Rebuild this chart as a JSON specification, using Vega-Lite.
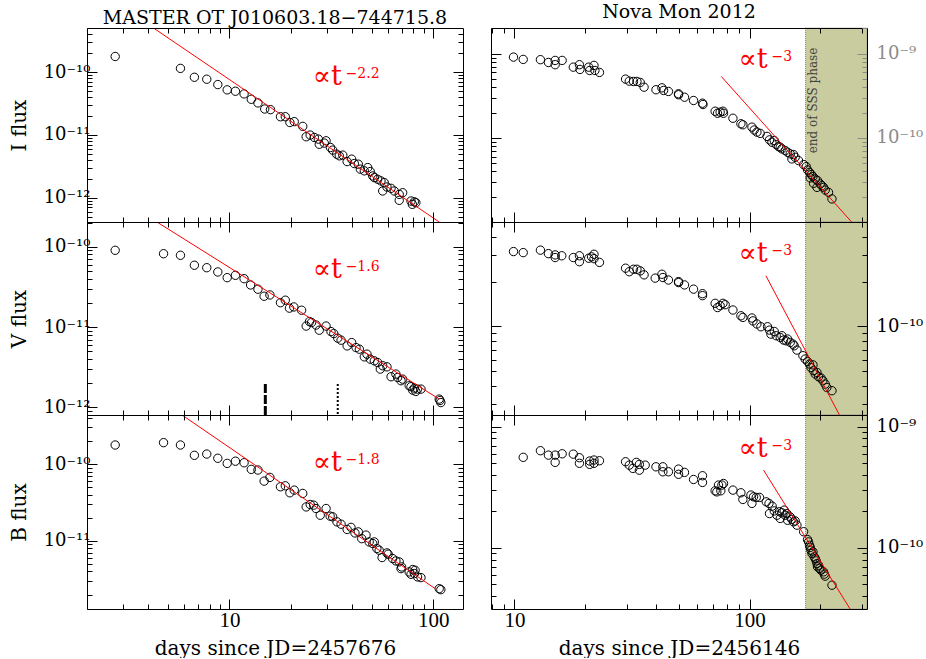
{
"$schema": "https://vega.github.io/schema/vega-lite/v6.json",
"padding": {"left": 9, "top": 3, "right": 0, "bottom": 0},
"background": "white",
"datasets": {
"LI": [{"t":2.75,"f":1.78e-10},{"t":5.75,"f":1.15e-10},{"t":6.73,"f":8.3e-11},{"t":7.74,"f":7.73e-11},{"t":8.77,"f":6.35e-11},{"t":9.75,"f":5.23e-11},{"t":10.7,"f":4.97e-11},{"t":11.8,"f":4.51e-11},{"t":12.8,"f":3.7e-11},{"t":13.8,"f":3.24e-11},{"t":14.9,"f":2.59e-11},{"t":15.9,"f":2.53e-11},{"t":17.8,"f":1.95e-11},{"t":18.8,"f":1.95e-11},{"t":19.8,"f":1.58e-11},{"t":20.8,"f":1.63e-11},{"t":22.9,"f":1.37e-11},{"t":23.8,"f":9.36e-12},{"t":24.9,"f":9.95e-12},{"t":26.1,"f":9.12e-12},{"t":27.3,"f":8.59e-12},{"t":27.6,"f":7.1e-12},{"t":29.2,"f":7.42e-12},{"t":29.8,"f":8.07e-12},{"t":31.3,"f":6.31e-12},{"t":32.1,"f":5.73e-12},{"t":33.6,"f":4.94e-12},{"t":34.6,"f":4.65e-12},{"t":36.0,"f":4.77e-12},{"t":37.8,"f":3.77e-12},{"t":39.8,"f":4.11e-12},{"t":41.0,"f":3.5e-12},{"t":42.9,"f":3.42e-12},{"t":43.9,"f":2.85e-12},{"t":45.9,"f":2.68e-12},{"t":47.7,"f":3.02e-12},{"t":49.1,"f":2.61e-12},{"t":50.5,"f":2.22e-12},{"t":51.4,"f":2.09e-12},{"t":53.4,"f":1.97e-12},{"t":55.4,"f":1.85e-12},{"t":57.5,"f":1.74e-12},{"t":56.5,"f":1.28e-12},{"t":59.3,"f":1.48e-12},{"t":62.1,"f":1.41e-12},{"t":64.4,"f":1.28e-12},{"t":68.1,"f":1.13e-12},{"t":70.8,"f":1.2e-12},{"t":68.1,"f":9.08e-13},{"t":77.8,"f":8.85e-13},{"t":80.8,"f":8.6e-13},{"t":82.2,"f":8.32e-13},{"t":79.0,"f":7.84e-13}],
"LV": [{"t":2.75,"f":9.02e-11},{"t":4.75,"f":8.18e-11},{"t":5.75,"f":7.82e-11},{"t":6.73,"f":5.88e-11},{"t":7.74,"f":5.48e-11},{"t":8.77,"f":4.85e-11},{"t":9.75,"f":4.12e-11},{"t":10.7,"f":4.41e-11},{"t":11.8,"f":4.0e-11},{"t":12.7,"f":3.34e-11},{"t":13.8,"f":2.96e-11},{"t":14.8,"f":2.42e-11},{"t":15.8,"f":2.51e-11},{"t":17.8,"f":2.01e-11},{"t":18.8,"f":2.16e-11},{"t":19.7,"f":1.72e-11},{"t":20.7,"f":1.78e-11},{"t":22.6,"f":1.62e-11},{"t":23.8,"f":1.03e-11},{"t":24.7,"f":1.17e-11},{"t":25.3,"f":1.14e-11},{"t":26.6,"f":1.06e-11},{"t":27.6,"f":9.14e-12},{"t":29.8,"f":1.03e-11},{"t":31.5,"f":8.79e-12},{"t":32.5,"f":8.3e-12},{"t":34.0,"f":7.28e-12},{"t":35.3,"f":6.87e-12},{"t":37.8,"f":5.83e-12},{"t":39.8,"f":6.41e-12},{"t":41.8,"f":5.56e-12},{"t":43.4,"f":5.31e-12},{"t":45.9,"f":4.26e-12},{"t":47.3,"f":4.6e-12},{"t":49.1,"f":3.99e-12},{"t":51.4,"f":3.8e-12},{"t":53.4,"f":3.62e-12},{"t":55.0,"f":3.0e-12},{"t":56.5,"f":3.3e-12},{"t":59.3,"f":3.2e-12},{"t":62.1,"f":2.41e-12},{"t":65.6,"f":2.6e-12},{"t":66.9,"f":2.36e-12},{"t":69.5,"f":2.15e-12},{"t":70.8,"f":2.25e-12},{"t":76.2,"f":1.86e-12},{"t":77.8,"f":1.81e-12},{"t":80.8,"f":1.74e-12},{"t":83.8,"f":1.69e-12},{"t":87.1,"f":1.69e-12},{"t":79.3,"f":1.64e-12},{"t":82.2,"f":1.58e-12},{"t":107,"f":1.27e-12},{"t":109,"f":1.15e-12},{"t":108,"f":1.22e-12}],
"LB": [{"t":2.75,"f":1.77e-10},{"t":4.75,"f":1.9e-10},{"t":5.75,"f":1.77e-10},{"t":6.73,"f":1.3e-10},{"t":7.74,"f":1.35e-10},{"t":8.77,"f":1.19e-10},{"t":9.75,"f":1.02e-10},{"t":10.7,"f":1.09e-10},{"t":11.8,"f":1.04e-10},{"t":12.8,"f":8.53e-11},{"t":13.8,"f":8.36e-11},{"t":14.8,"f":6.0e-11},{"t":15.8,"f":6.71e-11},{"t":17.8,"f":5.06e-11},{"t":18.8,"f":5.21e-11},{"t":19.8,"f":4.23e-11},{"t":20.8,"f":4.58e-11},{"t":22.9,"f":4.15e-11},{"t":23.8,"f":2.77e-11},{"t":24.9,"f":2.98e-11},{"t":25.9,"f":2.92e-11},{"t":26.6,"f":2.64e-11},{"t":27.9,"f":2.16e-11},{"t":29.8,"f":2.64e-11},{"t":31.2,"f":2.1e-11},{"t":32.1,"f":2.06e-11},{"t":33.7,"f":1.77e-11},{"t":35.3,"f":1.65e-11},{"t":37.8,"f":1.41e-11},{"t":39.5,"f":1.5e-11},{"t":41.3,"f":1.27e-11},{"t":42.9,"f":1.31e-11},{"t":44.6,"f":1.07e-11},{"t":46.8,"f":1.19e-11},{"t":48.5,"f":9.7e-12},{"t":50.5,"f":9.25e-12},{"t":51.4,"f":9.7e-12},{"t":52.9,"f":7.96e-12},{"t":54.3,"f":7.57e-12},{"t":56.1,"f":6.08e-12},{"t":59.3,"f":6.98e-12},{"t":60.1,"f":6.71e-12},{"t":63.2,"f":5.9e-12},{"t":65.6,"f":5.49e-12},{"t":68.1,"f":5.33e-12},{"t":69.5,"f":4.36e-12},{"t":70.0,"f":4.58e-12},{"t":76.2,"f":3.95e-12},{"t":79.3,"f":4.24e-12},{"t":80.8,"f":3.76e-12},{"t":83.8,"f":3.4e-12},{"t":87.1,"f":3.33e-12},{"t":77.8,"f":3.68e-12},{"t":81.5,"f":4.15e-12},{"t":107,"f":2.39e-12},{"t":109,"f":2.32e-12}],
"RI": [{"t":9.91,"f":9.11e-10},{"t":10.9,"f":8.55e-10},{"t":12.9,"f":8.49e-10},{"t":13.95,"f":7.87e-10},{"t":14.9,"f":8.32e-10},{"t":14.9,"f":7.4e-10},{"t":15.96,"f":8.32e-10},{"t":17.8,"f":6.92e-10},{"t":18.9,"f":7.4e-10},{"t":19.0,"f":6.5e-10},{"t":20.7,"f":6.92e-10},{"t":20.9,"f":6.32e-10},{"t":21.8,"f":7.26e-10},{"t":22.0,"f":6.32e-10},{"t":23.0,"f":5.99e-10},{"t":29.7,"f":4.99e-10},{"t":30.8,"f":4.72e-10},{"t":32.1,"f":4.68e-10},{"t":33.2,"f":4.68e-10},{"t":34.3,"f":4.55e-10},{"t":35.6,"f":4.0e-10},{"t":40.0,"f":3.73e-10},{"t":42.4,"f":3.93e-10},{"t":43.1,"f":3.66e-10},{"t":45.2,"f":3.56e-10},{"t":49.9,"f":3.34e-10},{"t":49.9,"f":3.25e-10},{"t":52.9,"f":3.04e-10},{"t":57.8,"f":2.78e-10},{"t":63.1,"f":2.58e-10},{"t":63.4,"f":2.49e-10},{"t":71.4,"f":2.07e-10},{"t":73.1,"f":1.96e-10},{"t":75.0,"f":2.02e-10},{"t":77.1,"f":2.07e-10},{"t":77.5,"f":1.96e-10},{"t":85.0,"f":1.71e-10},{"t":91.9,"f":1.47e-10},{"t":93.7,"f":1.43e-10},{"t":102.4,"f":1.34e-10},{"t":104.7,"f":1.24e-10},{"t":107.5,"f":1.17e-10},{"t":111.0,"f":1.13e-10},{"t":118.7,"f":1.04e-10},{"t":121.6,"f":9.46e-11},{"t":124.5,"f":8.86e-11},{"t":127.4,"f":9.29e-11},{"t":129.9,"f":8.31e-11},{"t":132.9,"f":7.87e-11},{"t":135.1,"f":7.73e-11},{"t":137.3,"f":7.4e-11},{"t":141.9,"f":7.06e-11},{"t":145.2,"f":6.74e-11},{"t":149.0,"f":6.45e-11},{"t":153.9,"f":6.33e-11},{"t":151.4,"f":5.62e-11},{"t":156.4,"f":5.87e-11},{"t":161.6,"f":5.37e-11},{"t":169.9,"f":4.81e-11},{"t":174.3,"f":4.55e-11},{"t":176.5,"f":4.16e-11},{"t":180.0,"f":3.89e-11},{"t":183.1,"f":3.66e-11},{"t":186.2,"f":3.46e-11},{"t":181.2,"f":3.34e-11},{"t":190.4,"f":3.25e-11},{"t":194.7,"f":3.1e-11},{"t":187.2,"f":2.88e-11},{"t":199.9,"f":2.83e-11},{"t":203.2,"f":2.7e-11},{"t":193.6,"f":2.58e-11},{"t":206.5,"f":2.58e-11},{"t":209.9,"f":2.4e-11},{"t":216.8,"f":2.25e-11},{"t":224.2,"f":1.88e-11}],
"RV": [{"t":9.91,"f":3.18e-10},{"t":10.9,"f":3.13e-10},{"t":12.9,"f":3.25e-10},{"t":13.95,"f":3.08e-10},{"t":14.9,"f":3.02e-10},{"t":14.9,"f":2.9e-10},{"t":15.9,"f":2.98e-10},{"t":17.8,"f":2.9e-10},{"t":18.9,"f":2.98e-10},{"t":18.9,"f":2.72e-10},{"t":20.7,"f":2.87e-10},{"t":21.3,"f":2.93e-10},{"t":21.8,"f":3.05e-10},{"t":21.8,"f":2.85e-10},{"t":23.0,"f":2.69e-10},{"t":29.7,"f":2.46e-10},{"t":30.8,"f":2.33e-10},{"t":32.1,"f":2.42e-10},{"t":33.2,"f":2.42e-10},{"t":34.3,"f":2.36e-10},{"t":35.6,"f":2.22e-10},{"t":39.7,"f":2.11e-10},{"t":42.4,"f":2.24e-10},{"t":42.8,"f":2.13e-10},{"t":45.2,"f":2.05e-10},{"t":49.9,"f":2.0e-10},{"t":49.9,"f":1.97e-10},{"t":52.9,"f":1.9e-10},{"t":57.8,"f":1.78e-10},{"t":63.1,"f":1.66e-10},{"t":63.1,"f":1.61e-10},{"t":71.4,"f":1.43e-10},{"t":73.1,"f":1.34e-10},{"t":75.0,"f":1.38e-10},{"t":77.1,"f":1.43e-10},{"t":78.8,"f":1.4e-10},{"t":85.0,"f":1.29e-10},{"t":91.9,"f":1.18e-10},{"t":93.7,"f":1.15e-10},{"t":102.4,"f":1.14e-10},{"t":103.4,"f":1.09e-10},{"t":107.5,"f":1.04e-10},{"t":111.8,"f":9.96e-11},{"t":119.3,"f":9.96e-11},{"t":121.6,"f":9.46e-11},{"t":123.3,"f":8.89e-11},{"t":127.4,"f":9.26e-11},{"t":129.9,"f":8.67e-11},{"t":135.1,"f":8.44e-11},{"t":137.3,"f":8.67e-11},{"t":139.6,"f":8.11e-11},{"t":143.2,"f":8.02e-11},{"t":145.2,"f":8.24e-11},{"t":149.0,"f":7.82e-11},{"t":153.0,"f":7.62e-11},{"t":154.9,"f":7.43e-11},{"t":159.1,"f":6.95e-11},{"t":168.7,"f":6.37e-11},{"t":172.5,"f":6.05e-11},{"t":176.5,"f":5.83e-11},{"t":180.0,"f":5.6e-11},{"t":182.4,"f":5.31e-11},{"t":186.2,"f":5.53e-11},{"t":187.2,"f":5.05e-11},{"t":190.4,"f":4.8e-11},{"t":193.6,"f":4.92e-11},{"t":196.6,"f":4.6e-11},{"t":201.4,"f":4.51e-11},{"t":205.2,"f":4.33e-11},{"t":209.9,"f":4.11e-11},{"t":213.3,"f":3.9e-11},{"t":224.2,"f":3.71e-11}],
"RB": [{"t":10.9,"f":5.59e-10},{"t":12.9,"f":6.34e-10},{"t":13.95,"f":5.83e-10},{"t":14.9,"f":5.83e-10},{"t":14.9,"f":5.08e-10},{"t":15.96,"f":5.98e-10},{"t":17.8,"f":5.94e-10},{"t":18.9,"f":5.55e-10},{"t":18.9,"f":4.99e-10},{"t":20.9,"f":5.21e-10},{"t":20.9,"f":4.89e-10},{"t":21.8,"f":5.31e-10},{"t":21.8,"f":4.99e-10},{"t":23.0,"f":5.24e-10},{"t":29.7,"f":5.14e-10},{"t":30.8,"f":4.82e-10},{"t":31.9,"f":4.53e-10},{"t":33.0,"f":5.08e-10},{"t":34.0,"f":4.89e-10},{"t":34.0,"f":4.38e-10},{"t":36.0,"f":4.82e-10},{"t":40.0,"f":4.67e-10},{"t":42.8,"f":4.67e-10},{"t":42.8,"f":4.25e-10},{"t":45.2,"f":4.25e-10},{"t":49.9,"f":4.47e-10},{"t":49.9,"f":4.05e-10},{"t":52.9,"f":4.2e-10},{"t":57.8,"f":3.67e-10},{"t":63.1,"f":3.94e-10},{"t":63.1,"f":3.47e-10},{"t":71.4,"f":2.96e-10},{"t":73.8,"f":3.3e-10},{"t":76.3,"f":3.3e-10},{"t":77.5,"f":3.4e-10},{"t":72.6,"f":2.9e-10},{"t":75.5,"f":2.96e-10},{"t":85.0,"f":3.0e-10},{"t":91.9,"f":2.85e-10},{"t":93.7,"f":2.51e-10},{"t":101.4,"f":2.73e-10},{"t":104.0,"f":2.64e-10},{"t":106.8,"f":2.61e-10},{"t":110.3,"f":2.61e-10},{"t":102.4,"f":2.33e-10},{"t":117.8,"f":2.4e-10},{"t":121.0,"f":2.33e-10},{"t":124.8,"f":2.21e-10},{"t":121.6,"f":1.92e-10},{"t":127.4,"f":2.02e-10},{"t":130.8,"f":1.86e-10},{"t":134.2,"f":1.99e-10},{"t":135.1,"f":1.75e-10},{"t":137.3,"f":1.95e-10},{"t":140.5,"f":2.05e-10},{"t":141.9,"f":1.86e-10},{"t":144.2,"f":1.92e-10},{"t":145.2,"f":1.69e-10},{"t":149.0,"f":1.8e-10},{"t":151.4,"f":1.72e-10},{"t":153.9,"f":1.64e-10},{"t":156.4,"f":1.67e-10},{"t":159.1,"f":1.54e-10},{"t":169.9,"f":1.36e-10},{"t":176.5,"f":1.17e-10},{"t":178.3,"f":1.12e-10},{"t":180.0,"f":1.05e-10},{"t":181.2,"f":1.01e-10},{"t":182.4,"f":9.57e-11},{"t":184.4,"f":8.99e-11},{"t":186.2,"f":9.27e-11},{"t":188.5,"f":8.43e-11},{"t":190.4,"f":8.17e-11},{"t":192.2,"f":7.81e-11},{"t":193.6,"f":7.43e-11},{"t":194.7,"f":6.97e-11},{"t":196.6,"f":7.19e-11},{"t":198.6,"f":6.76e-11},{"t":201.4,"f":6.54e-11},{"t":206.5,"f":6.34e-11},{"t":208.0,"f":6.07e-11},{"t":209.9,"f":5.84e-11},{"t":224.2,"f":4.92e-11}],
"fits": [{"p":"LI","t":4,"f":5.75e-10},{"p":"LI","t":107,"f":4.1e-13},{"p":"LV","t":4,"f":2.37e-10},{"p":"LV","t":107,"f":1.27e-12},{"p":"LB","t":4,"f":8.7e-10},{"p":"LB","t":102.3,"f":2.39e-12},{"p":"RI","t":75.8,"f":5.37e-10},{"p":"RI","t":300,"f":7.35e-12},{"p":"RV","t":117.4,"f":2.19e-10},{"p":"RV","t":300,"f":1.33e-11},{"p":"RB","t":114.7,"f":4.39e-10},{"p":"RB","t":300,"f":2.2e-11}],
"notes": [{"p":"LI","t":25.6,"f":6.35e-11,"m":"∝t","s":"−2.2"},{"p":"LV","t":25.6,"f":4.05e-11,"m":"∝t","s":"−1.6"},{"p":"LB","t":25.6,"f":8.2e-11,"m":"∝t","s":"−1.8"},{"p":"RI","t":89.8,"f":6.81e-10,"m":"∝t","s":"−3"},{"p":"RV","t":89.8,"f":2.69e-10,"m":"∝t","s":"−3"},{"p":"RB","t":89.8,"f":5.66e-10,"m":"∝t","s":"−3"}],
"epochs": [{"k":"dashed","t":15.0,"f":1.95e-12,"f2":8.05e-13},{"k":"dotted","t":34.0,"f":1.95e-12,"f2":8.05e-13}],
"sss": [{"t":173,"t2":316}],
"sssnote": [{"t":186.6,"f":2.78e-10,"s":"end of SSS phase"}]
},
"columns": 2,
"spacing": {"row": 0, "column": 28},
"bounds": "flush",
"concat": [
{"width": 376, "height": 194,
 "title": {"text": "MASTER OT J010603.18−744715.8", "font": "DejaVu Serif", "fontSize": 19, "fontWeight": "normal", "offset": -3, "frame": "group", "color": "black"},
 "resolve": {"axis": {"x": "independent", "y": "independent"}},
 "layer": [
  {"data": {"name": "LI"}, "mark": {"type": "point", "shape": "circle", "filled": false, "stroke": "black", "strokeWidth": 1, "size": 70, "opacity": 1},
   "encoding": {
    "x": {"field": "t", "type": "quantitative", "scale": {"type": "log", "domain": [2, 140], "nice": false}, "axis": {"orient": "bottom", "values": [2,3,4,5,6,7,8,9,10,20,30,40,50,60,70,80,90,100], "labels": false, "title": null, "zindex": 1, "tickSize": {"condition": {"test": "datum.value == 10 || datum.value == 100", "value": -10}, "value": -5}}},
    "y": {"field": "f", "type": "quantitative", "scale": {"type": "log", "domain": [4.1e-13, 5.06e-10], "nice": false}, "axis": {"orient": "left", "values": [5e-13,6e-13,7e-13,8e-13,9e-13,1e-12,2e-12,3e-12,4e-12,5e-12,6e-12,7e-12,8e-12,9e-12,1e-11,2e-11,3e-11,4e-11,5e-11,6e-11,7e-11,8e-11,9e-11,1e-10,2e-10,3e-10,4e-10], "labelExpr": "abs(log(datum.value)/LN10 - round(log(datum.value)/LN10)) < 0.001 ? (round(log(datum.value)/LN10) == -9 ? '10⁻⁹' : round(log(datum.value)/LN10) == -10 ? '10⁻¹⁰' : round(log(datum.value)/LN10) == -11 ? '10⁻¹¹' : '10⁻¹²') : ''", "labelPadding": 7, "title": "I flux", "titlePadding": 14, "zindex": 1, "tickSize": {"condition": {"test": "abs(log(datum.value)/LN10 - round(log(datum.value)/LN10)) < 0.001", "value": -10}, "value": -5}}}
   }},
  {"data": {"name": "fits"}, "transform": [{"filter": "datum.p == 'LI'"}], "mark": {"type": "line", "color": "#ff0000", "strokeWidth": 1, "clip": true},
   "encoding": {
    "x": {"field": "t", "type": "quantitative", "scale": {"type": "log", "domain": [2, 140], "nice": false}, "axis": {"orient": "top", "values": [2,3,4,5,6,7,8,9,10,20,30,40,50,60,70,80,90,100], "labels": false, "title": null, "zindex": 1, "tickSize": {"condition": {"test": "datum.value == 10 || datum.value == 100", "value": -10}, "value": -5}}},
    "y": {"field": "f", "type": "quantitative", "scale": {"type": "log", "domain": [4.1e-13, 5.06e-10], "nice": false}, "axis": {"orient": "right", "values": [5e-13,6e-13,7e-13,8e-13,9e-13,1e-12,2e-12,3e-12,4e-12,5e-12,6e-12,7e-12,8e-12,9e-12,1e-11,2e-11,3e-11,4e-11,5e-11,6e-11,7e-11,8e-11,9e-11,1e-10,2e-10,3e-10,4e-10], "labels": false, "title": null, "zindex": 1, "tickSize": {"condition": {"test": "abs(log(datum.value)/LN10 - round(log(datum.value)/LN10)) < 0.001", "value": -10}, "value": -5}}}
   }},
  {"data": {"name": "notes"}, "transform": [{"filter": "datum.p == 'LI'"}], "mark": {"type": "text", "align": "left", "baseline": "alphabetic", "font": "DejaVu Serif", "fontSize": 27, "color": "#ff0000"},
   "encoding": {"x": {"field": "t", "type": "quantitative", "axis": null}, "y": {"field": "f", "type": "quantitative", "axis": null}, "text": {"field": "m"}}},
  {"data": {"name": "notes"}, "transform": [{"filter": "datum.p == 'LI'"}], "mark": {"type": "text", "align": "left", "baseline": "alphabetic", "font": "DejaVu Serif", "fontSize": 14, "color": "#ff0000", "dx": 33, "dy": -7},
   "encoding": {"x": {"field": "t", "type": "quantitative", "axis": null}, "y": {"field": "f", "type": "quantitative", "axis": null}, "text": {"field": "s"}}}
 ]},
{"width": 376, "height": 194,
 "title": {"text": "Nova Mon 2012", "font": "DejaVu Serif", "fontSize": 19, "fontWeight": "normal", "offset": -3, "frame": "group", "color": "black"},
 "resolve": {"axis": {"x": "independent", "y": "independent"}},
 "layer": [
  {"data": {"name": "sss"}, "mark": {"type": "rect", "fill": "#c9cc9f", "stroke": "#8a8a7a", "strokeWidth": 1, "strokeDash": [1, 1]},
   "encoding": {"x": {"field": "t", "type": "quantitative", "scale": {"type": "log", "domain": [7.95, 316], "nice": false}, "axis": null}, "x2": {"field": "t2"}}},
  {"data": {"name": "RI"}, "mark": {"type": "point", "shape": "circle", "filled": false, "stroke": "black", "strokeWidth": 1, "size": 70, "opacity": 1},
   "encoding": {
    "x": {"field": "t", "type": "quantitative", "scale": {"type": "log", "domain": [7.95, 316], "nice": false}, "axis": {"orient": "bottom", "values": [8,9,10,20,30,40,50,60,70,80,90,100,200,300], "labels": false, "title": null, "zindex": 1, "tickSize": {"condition": {"test": "datum.value == 10 || datum.value == 100", "value": -10}, "value": -5}}},
    "y": {"field": "f", "type": "quantitative", "scale": {"type": "log", "domain": [1e-11, 2.02e-9], "nice": false}, "axis": {"orient": "left", "values": [2e-11,3e-11,4e-11,5e-11,6e-11,7e-11,8e-11,9e-11,1e-10,2e-10,3e-10,4e-10,5e-10,6e-10,7e-10,8e-10,9e-10,1e-9,2e-9], "labels": false, "title": null, "zindex": 1, "tickSize": {"condition": {"test": "abs(log(datum.value)/LN10 - round(log(datum.value)/LN10)) < 0.001", "value": -10}, "value": -5}}}
   }},
  {"data": {"name": "fits"}, "transform": [{"filter": "datum.p == 'RI'"}], "mark": {"type": "line", "color": "#ff0000", "strokeWidth": 1, "clip": true},
   "encoding": {
    "x": {"field": "t", "type": "quantitative", "scale": {"type": "log", "domain": [7.95, 316], "nice": false}, "axis": {"orient": "top", "values": [8,9,10,20,30,40,50,60,70,80,90,100,200,300], "labels": false, "title": null, "zindex": 1, "tickSize": {"condition": {"test": "datum.value == 10 || datum.value == 100", "value": -10}, "value": -5}}},
    "y": {"field": "f", "type": "quantitative", "scale": {"type": "log", "domain": [1e-11, 2.02e-9], "nice": false}, "axis": {"orient": "right", "values": [2e-11,3e-11,4e-11,5e-11,6e-11,7e-11,8e-11,9e-11,1e-10,2e-10,3e-10,4e-10,5e-10,6e-10,7e-10,8e-10,9e-10,1e-9,2e-9], "labelExpr": "abs(log(datum.value)/LN10 - round(log(datum.value)/LN10)) < 0.001 ? (round(log(datum.value)/LN10) == -9 ? '10⁻⁹' : round(log(datum.value)/LN10) == -10 ? '10⁻¹⁰' : round(log(datum.value)/LN10) == -11 ? '10⁻¹¹' : '10⁻¹²') : ''", "labelPadding": 19, "labelColor": "#8c8c8c", "tickColor": "#8c8c8c", "title": null, "zindex": 1, "tickSize": {"condition": {"test": "abs(log(datum.value)/LN10 - round(log(datum.value)/LN10)) < 0.001", "value": -10}, "value": -5}}}
   }},
  {"data": {"name": "notes"}, "transform": [{"filter": "datum.p == 'RI'"}], "mark": {"type": "text", "align": "left", "baseline": "alphabetic", "font": "DejaVu Serif", "fontSize": 27, "color": "#ff0000"},
   "encoding": {"x": {"field": "t", "type": "quantitative", "axis": null}, "y": {"field": "f", "type": "quantitative", "axis": null}, "text": {"field": "m"}}},
  {"data": {"name": "notes"}, "transform": [{"filter": "datum.p == 'RI'"}], "mark": {"type": "text", "align": "left", "baseline": "alphabetic", "font": "DejaVu Serif", "fontSize": 14, "color": "#ff0000", "dx": 33, "dy": -7},
   "encoding": {"x": {"field": "t", "type": "quantitative", "axis": null}, "y": {"field": "f", "type": "quantitative", "axis": null}, "text": {"field": "s"}}},
  {"data": {"name": "sssnote"}, "mark": {"type": "text", "angle": 270, "align": "center", "baseline": "middle", "font": "DejaVu Serif", "fontSize": 12, "color": "#444444"},
   "encoding": {"x": {"field": "t", "type": "quantitative", "axis": null}, "y": {"field": "f", "type": "quantitative", "axis": null}, "text": {"field": "s"}}}
 ]},
{"width": 376, "height": 193,
 "resolve": {"axis": {"x": "independent", "y": "independent"}},
 "layer": [
  {"data": {"name": "LV"}, "mark": {"type": "point", "shape": "circle", "filled": false, "stroke": "black", "strokeWidth": 1, "size": 70, "opacity": 1},
   "encoding": {
    "x": {"field": "t", "type": "quantitative", "scale": {"type": "log", "domain": [2, 140], "nice": false}, "axis": {"orient": "bottom", "values": [2,3,4,5,6,7,8,9,10,20,30,40,50,60,70,80,90,100], "labels": false, "title": null, "zindex": 1, "tickSize": {"condition": {"test": "datum.value == 10 || datum.value == 100", "value": -10}, "value": -5}}},
    "y": {"field": "f", "type": "quantitative", "scale": {"type": "log", "domain": [8.05e-13, 2.03e-10], "nice": false}, "axis": {"orient": "left", "values": [9e-13,1e-12,2e-12,3e-12,4e-12,5e-12,6e-12,7e-12,8e-12,9e-12,1e-11,2e-11,3e-11,4e-11,5e-11,6e-11,7e-11,8e-11,9e-11,1e-10,2e-10], "labelExpr": "abs(log(datum.value)/LN10 - round(log(datum.value)/LN10)) < 0.001 ? (round(log(datum.value)/LN10) == -9 ? '10⁻⁹' : round(log(datum.value)/LN10) == -10 ? '10⁻¹⁰' : round(log(datum.value)/LN10) == -11 ? '10⁻¹¹' : '10⁻¹²') : ''", "labelPadding": 7, "title": "V flux", "titlePadding": 14, "zindex": 1, "tickSize": {"condition": {"test": "abs(log(datum.value)/LN10 - round(log(datum.value)/LN10)) < 0.001", "value": -10}, "value": -5}}}
   }},
  {"data": {"name": "fits"}, "transform": [{"filter": "datum.p == 'LV'"}], "mark": {"type": "line", "color": "#ff0000", "strokeWidth": 1, "clip": true},
   "encoding": {
    "x": {"field": "t", "type": "quantitative", "scale": {"type": "log", "domain": [2, 140], "nice": false}, "axis": {"orient": "top", "values": [2,3,4,5,6,7,8,9,10,20,30,40,50,60,70,80,90,100], "labels": false, "title": null, "zindex": 1, "tickSize": {"condition": {"test": "datum.value == 10 || datum.value == 100", "value": -10}, "value": -5}}},
    "y": {"field": "f", "type": "quantitative", "scale": {"type": "log", "domain": [8.05e-13, 2.03e-10], "nice": false}, "axis": {"orient": "right", "values": [9e-13,1e-12,2e-12,3e-12,4e-12,5e-12,6e-12,7e-12,8e-12,9e-12,1e-11,2e-11,3e-11,4e-11,5e-11,6e-11,7e-11,8e-11,9e-11,1e-10,2e-10], "labels": false, "title": null, "zindex": 1, "tickSize": {"condition": {"test": "abs(log(datum.value)/LN10 - round(log(datum.value)/LN10)) < 0.001", "value": -10}, "value": -5}}}
   }},
  {"data": {"name": "notes"}, "transform": [{"filter": "datum.p == 'LV'"}], "mark": {"type": "text", "align": "left", "baseline": "alphabetic", "font": "DejaVu Serif", "fontSize": 27, "color": "#ff0000"},
   "encoding": {"x": {"field": "t", "type": "quantitative", "axis": null}, "y": {"field": "f", "type": "quantitative", "axis": null}, "text": {"field": "m"}}},
  {"data": {"name": "notes"}, "transform": [{"filter": "datum.p == 'LV'"}], "mark": {"type": "text", "align": "left", "baseline": "alphabetic", "font": "DejaVu Serif", "fontSize": 14, "color": "#ff0000", "dx": 33, "dy": -7},
   "encoding": {"x": {"field": "t", "type": "quantitative", "axis": null}, "y": {"field": "f", "type": "quantitative", "axis": null}, "text": {"field": "s"}}},
  {"data": {"name": "epochs"}, "transform": [{"filter": "datum.k == 'dashed'"}], "mark": {"type": "rule", "color": "black", "strokeWidth": 3, "strokeDash": [9, 2]},
   "encoding": {"x": {"field": "t", "type": "quantitative", "axis": null}, "y": {"field": "f", "type": "quantitative", "axis": null}, "y2": {"field": "f2"}}},
  {"data": {"name": "epochs"}, "transform": [{"filter": "datum.k == 'dotted'"}], "mark": {"type": "rule", "color": "black", "strokeWidth": 2, "strokeDash": [2, 2]},
   "encoding": {"x": {"field": "t", "type": "quantitative", "axis": null}, "y": {"field": "f", "type": "quantitative", "axis": null}, "y2": {"field": "f2"}}}
 ]},
{"width": 376, "height": 193,
 "resolve": {"axis": {"x": "independent", "y": "independent"}},
 "layer": [
  {"data": {"name": "sss"}, "mark": {"type": "rect", "fill": "#c9cc9f", "stroke": "#8a8a7a", "strokeWidth": 1, "strokeDash": [1, 1]},
   "encoding": {"x": {"field": "t", "type": "quantitative", "scale": {"type": "log", "domain": [7.95, 316], "nice": false}, "axis": null}, "x2": {"field": "t2"}}},
  {"data": {"name": "RV"}, "mark": {"type": "point", "shape": "circle", "filled": false, "stroke": "black", "strokeWidth": 1, "size": 70, "opacity": 1},
   "encoding": {
    "x": {"field": "t", "type": "quantitative", "scale": {"type": "log", "domain": [7.95, 316], "nice": false}, "axis": {"orient": "bottom", "values": [8,9,10,20,30,40,50,60,70,80,90,100,200,300], "labels": false, "title": null, "zindex": 1, "tickSize": {"condition": {"test": "datum.value == 10 || datum.value == 100", "value": -10}, "value": -5}}},
    "y": {"field": "f", "type": "quantitative", "scale": {"type": "log", "domain": [2.55e-11, 5.02e-10], "nice": false}, "axis": {"orient": "left", "values": [3e-11,4e-11,5e-11,6e-11,7e-11,8e-11,9e-11,1e-10,2e-10,3e-10,4e-10,5e-10], "labels": false, "title": null, "zindex": 1, "tickSize": {"condition": {"test": "abs(log(datum.value)/LN10 - round(log(datum.value)/LN10)) < 0.001", "value": -10}, "value": -5}}}
   }},
  {"data": {"name": "fits"}, "transform": [{"filter": "datum.p == 'RV'"}], "mark": {"type": "line", "color": "#ff0000", "strokeWidth": 1, "clip": true},
   "encoding": {
    "x": {"field": "t", "type": "quantitative", "scale": {"type": "log", "domain": [7.95, 316], "nice": false}, "axis": {"orient": "top", "values": [8,9,10,20,30,40,50,60,70,80,90,100,200,300], "labels": false, "title": null, "zindex": 1, "tickSize": {"condition": {"test": "datum.value == 10 || datum.value == 100", "value": -10}, "value": -5}}},
    "y": {"field": "f", "type": "quantitative", "scale": {"type": "log", "domain": [2.55e-11, 5.02e-10], "nice": false}, "axis": {"orient": "right", "values": [3e-11,4e-11,5e-11,6e-11,7e-11,8e-11,9e-11,1e-10,2e-10,3e-10,4e-10,5e-10], "labelExpr": "abs(log(datum.value)/LN10 - round(log(datum.value)/LN10)) < 0.001 ? (round(log(datum.value)/LN10) == -9 ? '10⁻⁹' : round(log(datum.value)/LN10) == -10 ? '10⁻¹⁰' : round(log(datum.value)/LN10) == -11 ? '10⁻¹¹' : '10⁻¹²') : ''", "labelPadding": 19, "title": null, "zindex": 1, "tickSize": {"condition": {"test": "abs(log(datum.value)/LN10 - round(log(datum.value)/LN10)) < 0.001", "value": -10}, "value": -5}}}
   }},
  {"data": {"name": "notes"}, "transform": [{"filter": "datum.p == 'RV'"}], "mark": {"type": "text", "align": "left", "baseline": "alphabetic", "font": "DejaVu Serif", "fontSize": 27, "color": "#ff0000"},
   "encoding": {"x": {"field": "t", "type": "quantitative", "axis": null}, "y": {"field": "f", "type": "quantitative", "axis": null}, "text": {"field": "m"}}},
  {"data": {"name": "notes"}, "transform": [{"filter": "datum.p == 'RV'"}], "mark": {"type": "text", "align": "left", "baseline": "alphabetic", "font": "DejaVu Serif", "fontSize": 14, "color": "#ff0000", "dx": 33, "dy": -7},
   "encoding": {"x": {"field": "t", "type": "quantitative", "axis": null}, "y": {"field": "f", "type": "quantitative", "axis": null}, "text": {"field": "s"}}}
 ]},
{"width": 376, "height": 194,
 "resolve": {"axis": {"x": "independent", "y": "independent"}},
 "layer": [
  {"data": {"name": "LB"}, "mark": {"type": "point", "shape": "circle", "filled": false, "stroke": "black", "strokeWidth": 1, "size": 70, "opacity": 1},
   "encoding": {
    "x": {"field": "t", "type": "quantitative", "scale": {"type": "log", "domain": [2, 140], "nice": false}, "axis": {"orient": "bottom", "values": [2,3,4,5,6,7,8,9,10,20,30,40,50,60,70,80,90,100], "labelExpr": "datum.value == 10 ? '10' : datum.value == 100 ? '100' : ''", "labelPadding": 10, "title": "days since JD=2457676", "titlePadding": 3, "zindex": 1, "tickSize": {"condition": {"test": "datum.value == 10 || datum.value == 100", "value": -10}, "value": -5}}},
    "y": {"field": "f", "type": "quantitative", "scale": {"type": "log", "domain": [1.3e-12, 4.35e-10], "nice": false}, "axis": {"orient": "left", "values": [2e-12,3e-12,4e-12,5e-12,6e-12,7e-12,8e-12,9e-12,1e-11,2e-11,3e-11,4e-11,5e-11,6e-11,7e-11,8e-11,9e-11,1e-10,2e-10,3e-10,4e-10], "labelExpr": "abs(log(datum.value)/LN10 - round(log(datum.value)/LN10)) < 0.001 ? (round(log(datum.value)/LN10) == -9 ? '10⁻⁹' : round(log(datum.value)/LN10) == -10 ? '10⁻¹⁰' : round(log(datum.value)/LN10) == -11 ? '10⁻¹¹' : '10⁻¹²') : ''", "labelPadding": 7, "title": "B flux", "titlePadding": 14, "zindex": 1, "tickSize": {"condition": {"test": "abs(log(datum.value)/LN10 - round(log(datum.value)/LN10)) < 0.001", "value": -10}, "value": -5}}}
   }},
  {"data": {"name": "fits"}, "transform": [{"filter": "datum.p == 'LB'"}], "mark": {"type": "line", "color": "#ff0000", "strokeWidth": 1, "clip": true},
   "encoding": {
    "x": {"field": "t", "type": "quantitative", "scale": {"type": "log", "domain": [2, 140], "nice": false}, "axis": {"orient": "top", "values": [2,3,4,5,6,7,8,9,10,20,30,40,50,60,70,80,90,100], "labels": false, "title": null, "zindex": 1, "tickSize": {"condition": {"test": "datum.value == 10 || datum.value == 100", "value": -10}, "value": -5}}},
    "y": {"field": "f", "type": "quantitative", "scale": {"type": "log", "domain": [1.3e-12, 4.35e-10], "nice": false}, "axis": {"orient": "right", "values": [2e-12,3e-12,4e-12,5e-12,6e-12,7e-12,8e-12,9e-12,1e-11,2e-11,3e-11,4e-11,5e-11,6e-11,7e-11,8e-11,9e-11,1e-10,2e-10,3e-10,4e-10], "labels": false, "title": null, "zindex": 1, "tickSize": {"condition": {"test": "abs(log(datum.value)/LN10 - round(log(datum.value)/LN10)) < 0.001", "value": -10}, "value": -5}}}
   }},
  {"data": {"name": "notes"}, "transform": [{"filter": "datum.p == 'LB'"}], "mark": {"type": "text", "align": "left", "baseline": "alphabetic", "font": "DejaVu Serif", "fontSize": 27, "color": "#ff0000"},
   "encoding": {"x": {"field": "t", "type": "quantitative", "axis": null}, "y": {"field": "f", "type": "quantitative", "axis": null}, "text": {"field": "m"}}},
  {"data": {"name": "notes"}, "transform": [{"filter": "datum.p == 'LB'"}], "mark": {"type": "text", "align": "left", "baseline": "alphabetic", "font": "DejaVu Serif", "fontSize": 14, "color": "#ff0000", "dx": 33, "dy": -7},
   "encoding": {"x": {"field": "t", "type": "quantitative", "axis": null}, "y": {"field": "f", "type": "quantitative", "axis": null}, "text": {"field": "s"}}}
 ]},
{"width": 376, "height": 194,
 "resolve": {"axis": {"x": "independent", "y": "independent"}},
 "layer": [
  {"data": {"name": "sss"}, "mark": {"type": "rect", "fill": "#c9cc9f", "stroke": "#8a8a7a", "strokeWidth": 1, "strokeDash": [1, 1]},
   "encoding": {"x": {"field": "t", "type": "quantitative", "scale": {"type": "log", "domain": [7.95, 316], "nice": false}, "axis": null}, "x2": {"field": "t2"}}},
  {"data": {"name": "RB"}, "mark": {"type": "point", "shape": "circle", "filled": false, "stroke": "black", "strokeWidth": 1, "size": 70, "opacity": 1},
   "encoding": {
    "x": {"field": "t", "type": "quantitative", "scale": {"type": "log", "domain": [7.95, 316], "nice": false}, "axis": {"orient": "bottom", "values": [8,9,10,20,30,40,50,60,70,80,90,100,200,300], "labelExpr": "datum.value == 10 ? '10' : datum.value == 100 ? '100' : ''", "labelPadding": 10, "title": "days since JD=2456146", "titlePadding": 3, "zindex": 1, "tickSize": {"condition": {"test": "datum.value == 10 || datum.value == 100", "value": -10}, "value": -5}}},
    "y": {"field": "f", "type": "quantitative", "scale": {"type": "log", "domain": [3.13e-11, 1.25e-9], "nice": false}, "axis": {"orient": "left", "values": [4e-11,5e-11,6e-11,7e-11,8e-11,9e-11,1e-10,2e-10,3e-10,4e-10,5e-10,6e-10,7e-10,8e-10,9e-10,1e-9], "labels": false, "title": null, "zindex": 1, "tickSize": {"condition": {"test": "abs(log(datum.value)/LN10 - round(log(datum.value)/LN10)) < 0.001", "value": -10}, "value": -5}}}
   }},
  {"data": {"name": "fits"}, "transform": [{"filter": "datum.p == 'RB'"}], "mark": {"type": "line", "color": "#ff0000", "strokeWidth": 1, "clip": true},
   "encoding": {
    "x": {"field": "t", "type": "quantitative", "scale": {"type": "log", "domain": [7.95, 316], "nice": false}, "axis": {"orient": "top", "values": [8,9,10,20,30,40,50,60,70,80,90,100,200,300], "labels": false, "title": null, "zindex": 1, "tickSize": {"condition": {"test": "datum.value == 10 || datum.value == 100", "value": -10}, "value": -5}}},
    "y": {"field": "f", "type": "quantitative", "scale": {"type": "log", "domain": [3.13e-11, 1.25e-9], "nice": false}, "axis": {"orient": "right", "values": [4e-11,5e-11,6e-11,7e-11,8e-11,9e-11,1e-10,2e-10,3e-10,4e-10,5e-10,6e-10,7e-10,8e-10,9e-10,1e-9], "labelExpr": "abs(log(datum.value)/LN10 - round(log(datum.value)/LN10)) < 0.001 ? (round(log(datum.value)/LN10) == -9 ? '10⁻⁹' : round(log(datum.value)/LN10) == -10 ? '10⁻¹⁰' : round(log(datum.value)/LN10) == -11 ? '10⁻¹¹' : '10⁻¹²') : ''", "labelPadding": 19, "title": null, "zindex": 1, "tickSize": {"condition": {"test": "abs(log(datum.value)/LN10 - round(log(datum.value)/LN10)) < 0.001", "value": -10}, "value": -5}}}
   }},
  {"data": {"name": "notes"}, "transform": [{"filter": "datum.p == 'RB'"}], "mark": {"type": "text", "align": "left", "baseline": "alphabetic", "font": "DejaVu Serif", "fontSize": 27, "color": "#ff0000"},
   "encoding": {"x": {"field": "t", "type": "quantitative", "axis": null}, "y": {"field": "f", "type": "quantitative", "axis": null}, "text": {"field": "m"}}},
  {"data": {"name": "notes"}, "transform": [{"filter": "datum.p == 'RB'"}], "mark": {"type": "text", "align": "left", "baseline": "alphabetic", "font": "DejaVu Serif", "fontSize": 14, "color": "#ff0000", "dx": 33, "dy": -7},
   "encoding": {"x": {"field": "t", "type": "quantitative", "axis": null}, "y": {"field": "f", "type": "quantitative", "axis": null}, "text": {"field": "s"}}}
 ]}
],
"config": {
 "view": {"stroke": null},
 "axis": {"grid": false, "domain": true, "domainColor": "black", "domainWidth": 1, "tickColor": "black", "tickWidth": 1, "labelColor": "black", "titleColor": "black", "labelFont": "Liberation Serif", "labelFontSize": 21, "titleFont": "DejaVu Serif", "titleFontSize": 20, "titleFontWeight": "normal", "labelOverlap": false, "labelFlush": false, "labelBound": false},
 "axisY": {"labelFont": "DejaVu Serif", "labelFontSize": 18}
}
}
